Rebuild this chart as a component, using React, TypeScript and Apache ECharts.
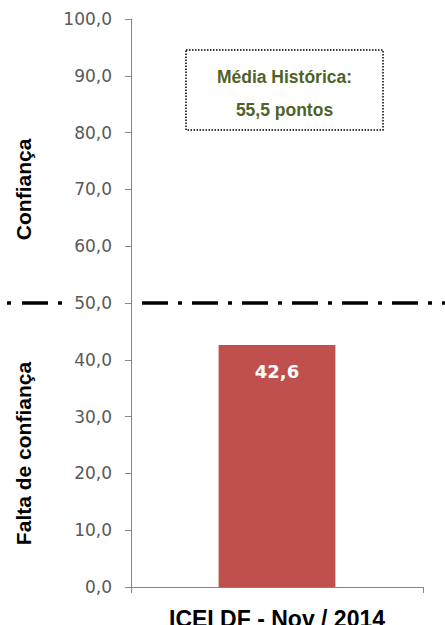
import React, { useEffect, useRef } from "react";
import * as echarts from "echarts";

const categories = ["ICEI DF - Nov / 2014"];
const values = [42.6];
const referenceValue = 50;
const yMin = 0;
const yMax = 100;
const yInterval = 10;
const axisTitleTop = "Confiança";
const axisTitleBottom = "Falta de confiança";
const noteLines = ["Média Histórica:", "55,5 pontos"];

const fmt = (v: number) => v.toFixed(1).replace(".", ",");

export default function App() {
  const ref = useRef<HTMLDivElement>(null);
  useEffect(() => {
    if (!ref.current) return;
    const chart = echarts.init(ref.current, null, { renderer: "svg" });
    const gridLeft = 131;
    const gridRight = 22;
    const option: any = {
      animation: false,
      grid: {
        left: gridLeft,
        right: gridRight,
        top: 19,
        bottom: 38,
        containLabel: false,
        outerBoundsMode: "none",
      },
      xAxis: {
        type: "category",
        data: categories,
        axisLine: { lineStyle: { color: "#868686", width: 1 } },
        axisTick: { show: true, length: 6, lineStyle: { color: "#868686" } },
        axisLabel: {
          margin: 20,
          color: "#000",
          fontFamily: "Liberation Sans",
          fontWeight: "bold",
          fontSize: 23,
        },
      },
      yAxis: {
        type: "value",
        min: yMin,
        max: yMax,
        interval: yInterval,
        splitLine: { show: false },
        axisLine: { show: true, lineStyle: { color: "#868686", width: 1 } },
        axisTick: { show: true, length: 6, lineStyle: { color: "#868686" } },
        axisLabel: {
          margin: 19,
          color: "#595959",
          fontFamily: "DejaVu Sans",
          fontSize: 17,
          formatter: (v: number) => fmt(v),
        },
      },
      series: [
        {
          type: "bar",
          data: values,
          barWidth: "40%",
          itemStyle: { color: "#C0504D" },
          label: {
            show: true,
            position: "insideTop",
            distance: 17,
            color: "#fff",
            fontFamily: "DejaVu Sans",
            fontWeight: "bold",
            fontSize: 18,
            formatter: (p: any) => fmt(p.value),
          },
        },
      ],
    };
    chart.setOption(option);

    const yRef = chart.convertToPixel({ yAxisIndex: 0 }, referenceValue) as number;
    const yTop = chart.convertToPixel({ yAxisIndex: 0 }, 70) as number;
    const yBottom = chart.convertToPixel({ yAxisIndex: 0 }, 23.5) as number;
    const W = 445;
    const lw = 3.5;
    chart.setOption({
      graphic: [
        {
          type: "line",
          shape: { x1: 7, y1: yRef, x2: 62, y2: yRef },
          style: { stroke: "#000", lineWidth: lw, lineDash: [4, 11, 26, 10] },
          silent: true,
        },
        {
          type: "line",
          shape: { x1: gridLeft + 11, y1: yRef, x2: W, y2: yRef },
          style: { stroke: "#000", lineWidth: lw, lineDash: [26, 10, 4, 10] },
          silent: true,
        },
        {
          type: "text",
          x: 23,
          y: yTop,
          rotation: Math.PI / 2,
          style: {
            text: axisTitleTop,
            fill: "#000",
            font: "bold 21px 'Liberation Sans'",
            align: "center",
            verticalAlign: "middle",
          },
        },
        {
          type: "text",
          x: 23,
          y: yBottom,
          rotation: Math.PI / 2,
          style: {
            text: axisTitleBottom,
            fill: "#000",
            font: "bold 21px 'Liberation Sans'",
            align: "center",
            verticalAlign: "middle",
          },
        },
        {
          type: "rect",
          shape: { x: 186, y: 50, width: 197, height: 80 },
          style: { fill: "#fff", stroke: "#000", lineWidth: 1.5, lineDash: [1.5, 1.5] },
        },
        {
          type: "text",
          x: 284.5,
          y: 77,
          style: {
            text: noteLines[0],
            fill: "#4F6228",
            font: "bold 17.5px 'Liberation Sans'",
            align: "center",
            verticalAlign: "middle",
          },
        },
        {
          type: "text",
          x: 284.5,
          y: 110,
          style: {
            text: noteLines[1],
            fill: "#4F6228",
            font: "bold 17.5px 'Liberation Sans'",
            align: "center",
            verticalAlign: "middle",
          },
        },
      ],
    });
    return () => chart.dispose();
  }, []);
  return <div ref={ref} style={{ width: 445, height: 625, position: "absolute", left: 0, top: 0, background: "#fff" }} />;
}
